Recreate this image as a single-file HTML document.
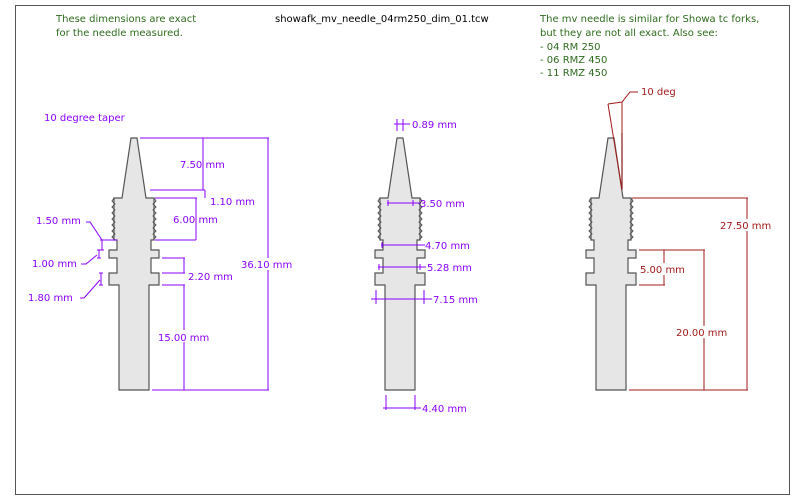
<!DOCTYPE html>
<html><head><meta charset="utf-8"><style>
html,body{margin:0;padding:0;background:#fff;}
svg{display:block;font-family:"DejaVu Sans","Liberation Sans",sans-serif;font-size:10px;}
</style></head><body>
<svg width="800" height="500" viewBox="0 0 800 500" xmlns="http://www.w3.org/2000/svg">
<rect x="15.5" y="5.5" width="774" height="489" fill="#fff" stroke="#555" stroke-width="1"/>
<g fill="#2e6b1e">
<text x="56" y="22">These dimensions are exact</text>
<text x="56" y="36">for the needle measured.</text>
<text x="540" y="22">The mv needle is similar for Showa tc forks,</text>
<text x="540" y="36">but they are not all exact. Also see:</text>
<text x="540" y="50"> - 04 RM 250</text>
<text x="540" y="63"> - 06 RMZ 450</text>
<text x="540" y="76"> - 11 RMZ 450</text>
</g>
<text x="275" y="22" fill="#000">showafk_mv_needle_04rm250_dim_01.tcw</text>

<defs>
<g id="needle">
<path d="M-3,0 L3,0 L12,60 L20,60 L20,102 L17,102 L17,112 L25,112 L25,120 L17,120 L17,135 L25,135 L25,147 L15,147 L15,252 L-15,252 L-15,147 L-25,147 L-25,135 L-17,135 L-17,120 L-25,120 L-25,112 L-17,112 L-17,102 L-20,102 L-20,60 L-12,60 Z" fill="#e6e6e6" stroke="#555" stroke-width="1.2"/>
<path d="M-20,60 L-22,63 L-19,66 L-22,69 L-19,72 L-22,75 L-19,78 L-22,81 L-19,84 L-22,87 L-19,90 L-22,93 L-19,96 L-22,99 L-19,102" fill="none" stroke="#555" stroke-width="1"/>
<path d="M20,60 L22,63 L19,66 L22,69 L19,72 L22,75 L19,78 L22,81 L19,84 L22,87 L19,90 L22,93 L19,96 L22,99 L19,102" fill="none" stroke="#555" stroke-width="1"/>
</g>
</defs>
<use href="#needle" x="134" y="138"/>
<use href="#needle" x="400" y="138"/>
<use href="#needle" x="611" y="138"/>

<!-- left dims -->
<g stroke="#8a00ff" stroke-width="1" fill="none">
<line x1="140" y1="138" x2="269" y2="138"/>
<line x1="268" y1="138" x2="268" y2="390"/>
<line x1="152" y1="390" x2="269" y2="390"/>
<line x1="203" y1="138" x2="203" y2="190"/>
<line x1="150" y1="190" x2="205" y2="190"/>
<line x1="205" y1="190" x2="205" y2="198"/>
<line x1="155" y1="198" x2="197" y2="198"/>
<line x1="196" y1="198" x2="196" y2="240"/>
<line x1="155" y1="240" x2="196" y2="240"/>
<line x1="162" y1="258" x2="185" y2="258"/>
<line x1="162" y1="273" x2="185" y2="273"/>
<line x1="184" y1="258" x2="184" y2="273"/>
<line x1="162" y1="285" x2="185" y2="285"/>
<line x1="184" y1="285" x2="184" y2="390"/>
<path d="M86,222 L90,222 L102,240 M102,240 L102,250 M100,240 L117,240 M100,250 L104,250"/>
<path d="M81,264 L86,264 L97,255 M99,250 L99,258 M97,250 L101,250 M97,258 L101,258"/>
<path d="M80,298 L84,298 L100,280 M101,273 L101,285 M99,273 L103,273 M99,285 L103,285"/>
</g>
<g fill="#8a00ff">
<text x="44" y="121">10 degree taper</text>
<text x="180" y="168" >7.50 mm</text>
<text x="210" y="205">1.10 mm</text>
<text x="173" y="223">6.00 mm</text>
<text x="36" y="224">1.50 mm</text>
<text x="32" y="267">1.00 mm</text>
<text x="28" y="301">1.80 mm</text>
<text x="188" y="280">2.20 mm</text>
<rect x="157" y="330" width="50" height="12" fill="#fff"/>
<text x="158" y="341">15.00 mm</text>
<rect x="240" y="258" width="55" height="12" fill="#fff"/>
<text x="241" y="268">36.10 mm</text>
</g>

<!-- middle dims -->
<g stroke="#8a00ff" stroke-width="1" fill="none">
<path d="M397,119 L397,131 M403,119 L403,131 M394,124 L410,124"/>
<path d="M387,203 L421,203 M388,200 L388,206 M413,200 L413,206"/>
<path d="M381,245 L425,245 M382,242 L382,248"/>
<path d="M378,267 L426,267 M379,264 L379,270 M420,264 L420,270"/>
<path d="M371,299 L432,299 M376,290 L376,304 M424,290 L424,304"/>
<path d="M383,408 L421,408 M386,395 L386,410 M415,395 L415,410"/>
</g>
<g fill="#8a00ff">
<text x="412" y="128">0.89 mm</text>
<text x="420" y="207">3.50 mm</text>
<text x="425" y="249">4.70 mm</text>
<text x="427" y="271">5.28 mm</text>
<text x="433" y="303">7.15 mm</text>
<text x="422" y="412">4.40 mm</text>
</g>

<!-- right dims -->
<line x1="622" y1="133" x2="622" y2="189" stroke="#000" stroke-width="1.2"/>
<g stroke="#a31a1a" stroke-width="1" fill="none">
<path d="M608,104 L622,190 M622,102 L622,190 M608,104 L622,102 L630,92 L638,92"/>
<path d="M632,198 L748,198 M747,198 L747,390 M629,390 L748,390"/>
<path d="M639,250 L705,250 M639,285 L665,285 M664,250 L664,285 M704,250 L704,390"/>
</g>
<g fill="#a31a1a">
<text x="641" y="95">10 deg</text>
<rect x="719" y="219" width="56" height="12" fill="#fff"/>
<text x="720" y="229">27.50 mm</text>
<rect x="639" y="263" width="50" height="12" fill="#fff"/>
<text x="640" y="273">5.00 mm</text>
<rect x="675" y="326" width="56" height="12" fill="#fff"/>
<text x="676" y="336">20.00 mm</text>
</g>
</svg>
</body></html>
